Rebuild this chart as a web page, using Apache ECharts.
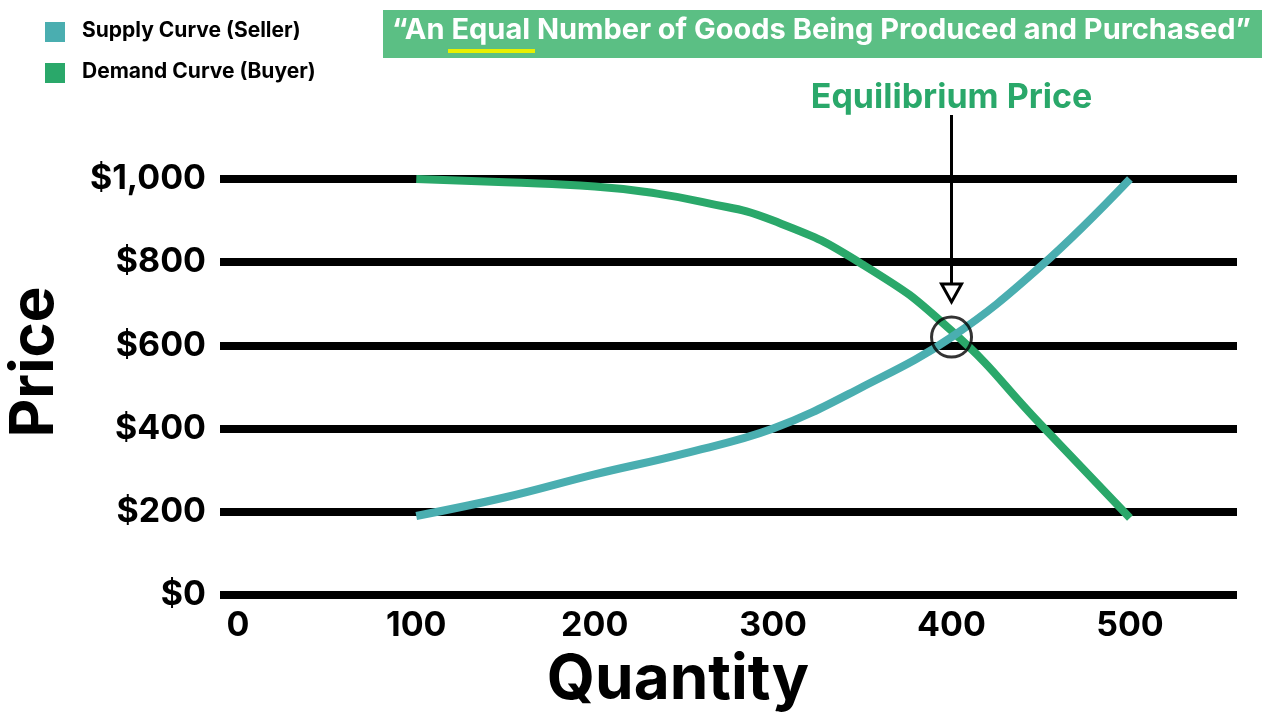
<!DOCTYPE html><html><head><meta charset="utf-8"><script src="https://cdn.jsdelivr.net/npm/echarts@6/dist/echarts.min.js"></script>
<style>body{margin:0}#c{width:1280px;height:720px}</style></head><body><div id="c"></div><script>
const supply=[[100,190],[150,235],[200,290],[250,340],[300,400],[350,500],[400,620],[450,790],[500,1000]];
const demand=[[100,1000],[150,992],[200,982],[230,968],[260,945],[300,900],[350,795],[400,635],[450,410],[500,185]];
const equilibrium=[400,620];
const xTicks=[0,100,200,300,400,500];
const F='"Helvetica Neue",Inter,Roboto,Arial,sans-serif';
const chart=echarts.init(document.getElementById('c'));
chart.setOption({
 animation:false,
 grid:{left:220,right:43,top:179,bottom:125},
 xAxis:{type:'value',min:-10,max:560,interval:10,axisLine:{show:false},axisTick:{show:false},splitLine:{show:false},
  axisLabel:{formatter:v=>xTicks.includes(v)?String(v):'',color:'#000',fontSize:34,fontWeight:'bold',fontFamily:F,margin:14,showMinLabel:true,showMaxLabel:false}},
 yAxis:{type:'value',min:0,max:1000,interval:200,axisLine:{show:false},axisTick:{show:false},
  splitLine:{lineStyle:{color:'#000',width:8}},
  axisLabel:{formatter:v=>'$'+v.toLocaleString('en-US'),color:'#000',fontSize:34,fontWeight:'bold',fontFamily:F,margin:14}},
 series:[
  {type:'line',data:demand,smooth:0.5,symbol:'none',lineStyle:{color:'#2aa86a',width:8},z:3},
  {type:'line',data:supply,smooth:0.4,symbol:'none',lineStyle:{color:'#4aaeb0',width:8},z:4},
  {type:'scatter',data:[equilibrium],symbol:'circle',symbolSize:40,itemStyle:{color:'transparent',borderColor:'#000',borderWidth:3},z:5}
 ]
});
const p=chart.convertToPixel({gridIndex:0},equilibrium);
const ex=p[0], ey=p[1];
chart.setOption({graphic:[
 {type:'rect',shape:{x:383,y:10,width:879,height:48},style:{fill:'#5bbf84'}},
 {type:'text',left:822-430,top:16,style:{text:'“An Equal Number of Goods Being Produced and Purchased”',fill:'#fff',fontSize:29,fontWeight:'bold',fontFamily:F,width:860,align:'center'},x:0},
 {type:'line',shape:{x1:448,y1:51,x2:535,y2:51},style:{stroke:'#e8f000',lineWidth:4}},
 {type:'rect',shape:{x:45,y:22,width:20,height:20},style:{fill:'#4aaeb0'}},
 {type:'text',left:82,top:20,style:{text:'Supply Curve (Seller)',fill:'#000',fontSize:21,fontWeight:'bold',fontFamily:F}},
 {type:'rect',shape:{x:45,y:63,width:20,height:20},style:{fill:'#2aa86a'}},
 {type:'text',left:82,top:61,style:{text:'Demand Curve (Buyer)',fill:'#000',fontSize:21,fontWeight:'bold',fontFamily:F}},
 {type:'text',x:ex,y:98,style:{text:'Equilibrium Price',fill:'#2aa86a',fontSize:34,fontWeight:'bold',fontFamily:F,align:'center',verticalAlign:'middle'}},
 {type:'line',shape:{x1:ex,y1:115,x2:ex,y2:285},style:{stroke:'#000',lineWidth:3}},
 {type:'polygon',shape:{points:[[ex-10,284],[ex+10,284],[ex,302]]},style:{fill:'#fff',stroke:'#000',lineWidth:3}},
 {type:'text',x:35,y:362,rotation:Math.PI/2,style:{text:'Price',fill:'#000',fontSize:60,fontWeight:'bold',fontFamily:F,align:'center',verticalAlign:'middle'}},
 {type:'text',x:678,y:680,style:{text:'Quantity',fill:'#000',fontSize:62,fontWeight:'bold',fontFamily:F,align:'center',verticalAlign:'middle'}}
]});
</script></body></html>
